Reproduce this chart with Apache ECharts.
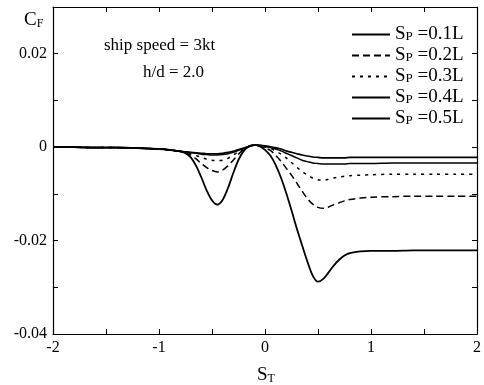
<!DOCTYPE html>
<html><head><meta charset="utf-8">
<script src="https://cdn.jsdelivr.net/npm/echarts@6/dist/echarts.min.js"></script>
<style>html,body{margin:0;padding:0;background:#fff}#c{width:484px;height:385px}</style>
</head><body><div id="c"></div>
<script>
const xs = [-2, -1.8, -1.6, -1.4, -1.2, -1.0, -0.9, -0.8, -0.75, -0.7, -0.65, -0.6, -0.55, -0.5, -0.45, -0.4, -0.35, -0.3, -0.25, -0.2, -0.15, -0.1, -0.05, 0, 0.05, 0.1, 0.15, 0.2, 0.25, 0.3, 0.35, 0.4, 0.45, 0.5, 0.55, 0.6, 0.65, 0.7, 0.75, 0.8, 0.9, 1.0, 1.2, 1.4, 1.6, 1.8, 2.0];
const sp01 = [0, 0, -0.0001, -0.0001, -0.0002, -0.0004, -0.0006, -0.0009,
  -0.0013, -0.0022, -0.0040, -0.0065, -0.0093, -0.0114, -0.0123, -0.0113, -0.0088, -0.0056, -0.0027, -0.0008, 0.0002, 0.0005, 0.0002,
  -0.0006, -0.0018, -0.0038, -0.0065, -0.0098, -0.0135, -0.0174, -0.0210, -0.0245, -0.0275, -0.0288, -0.0282, -0.0268, -0.0253, -0.0241, -0.0232, -0.0227, -0.0223, -0.0222, -0.0222, -0.0221, -0.0221, -0.0221, -0.0221];
const sp02 = [0, 0, -0.0001, -0.0001, -0.0002, -0.0004, -0.0006, -0.0009,
  -0.0012, -0.0017, -0.0025, -0.0035, -0.0044, -0.0050, -0.0053, -0.0049, -0.0040, -0.0028, -0.0015, -0.0005, 0.0002, 0.0004, 0.0002,
  -0.0002, -0.0007, -0.0017, -0.0030, -0.0045, -0.0060, -0.0077, -0.0094, -0.0110, -0.0122, -0.0129, -0.0131, -0.0128, -0.0123, -0.0119, -0.0115, -0.0112, -0.0109, -0.0107, -0.0106, -0.0105, -0.0105, -0.0105, -0.0105];
const sp03 = [0, 0, -0.0001, -0.0001, -0.0002, -0.0004, -0.0006, -0.0009,
  -0.0011, -0.0014, -0.0018, -0.0022, -0.0026, -0.0028, -0.0029, -0.0028, -0.0024, -0.0017, -0.0010, -0.0003, 0.0002, 0.0004, 0.0003,
  0, -0.0003, -0.0008, -0.0015, -0.0023, -0.0033, -0.0043, -0.0052, -0.0060, -0.0066, -0.0070, -0.0071, -0.0069, -0.0066, -0.0064, -0.0062, -0.0061, -0.0060, -0.0059, -0.0058, -0.0058, -0.0058, -0.0058, -0.0058];
const sp04 = [0, 0, -0.0001, -0.0001, -0.0002, -0.0004, -0.0006, -0.0009,
  -0.0010, -0.0012, -0.0013, -0.0015, -0.0016, -0.0017, -0.0017, -0.0016, -0.0014, -0.0011, -0.0007, -0.0003, 0.0001, 0.0004, 0.0004,
  0.0002, -0.0001, -0.0004, -0.0008, -0.0013, -0.0018, -0.0023, -0.0028, -0.0031, -0.0034, -0.0035, -0.0036, -0.0036, -0.0036, -0.0036, -0.0036, -0.0035, -0.0035, -0.0035, -0.0034, -0.0034, -0.0034, -0.0034, -0.0034];
const sp05 = [0, 0, -0.0001, -0.0001, -0.0002, -0.0004, -0.0006, -0.0009,
  -0.0010, -0.0011, -0.0012, -0.0013, -0.0014, -0.0014, -0.0014, -0.0013, -0.0011, -0.0009, -0.0005, -0.0002, 0.0002, 0.0004, 0.0004,
  0.0003, 0.0001, -0.0001, -0.0004, -0.0008, -0.0011, -0.0014, -0.0017, -0.0019, -0.0021, -0.0022, -0.0023, -0.0023, -0.0023, -0.0023, -0.0023, -0.0022, -0.0022, -0.0022, -0.0022, -0.0022, -0.0022, -0.0022, -0.0022];
const seriesNames = ['0.1L', '0.2L', '0.3L', '0.4L', '0.5L'];
const xTickLabels = ['-2', '-1', '0', '1', '2'];
const yTickLabels = ['0.02', '0', '-0.02', '-0.04'];

const FONT = '"Liberation Serif", "Times New Roman", serif';
const allY = [sp01, sp02, sp03, sp04, sp05];
const styles = [
  {type: 'solid', width: 1.8},
  {type: [7, 4], width: 1.5},
  {type: [3, 5], width: 1.5},
  {type: 'solid', width: 1.5},
  {type: 'solid', width: 1.6}
];
const rich = {
  m: {fontFamily: FONT, fontSize: 19, color: '#000'},
  s: {fontFamily: FONT, fontSize: 13, color: '#000', padding: [5, 0, 0, 0]}
};
const richBig = {
  m: {fontFamily: FONT, fontSize: 19, color: '#000'},
  s: {fontFamily: FONT, fontSize: 12, color: '#000', padding: [6, 0, 0, 0]}
};
const tickStyle = {lineStyle: {color: '#000', width: 1}};
function near(v, step) { return Math.abs(v / step - Math.round(v / step)) < 1e-6; }
function fmtX(v) {
  if (!near(v, 1)) return '';
  const s = String(Math.round(v));
  return xTickLabels.includes(s) ? s : '';
}
function fmtY(v) {
  if (!near(v, 0.02)) return '';
  const r = Math.round(v / 0.02) * 0.02;
  const s = Math.abs(r) < 1e-9 ? '0' : r.toFixed(2);
  return yTickLabels.includes(s) ? s : '';
}
const chart = echarts.init(document.getElementById('c'), null, {renderer: 'canvas'});
chart.setOption({
  animation: false,
  backgroundColor: '#fff',
  grid: {left: 53, right: 4, top: 7, bottom: 51, containLabel: false},
  xAxis: [
    {type: 'value', min: -2, max: 2, interval: 0.5, position: 'bottom',
     axisLine: {onZero: false, lineStyle: {color: '#000', width: 1.2}},
     axisTick: Object.assign({inside: true, length: 5}, tickStyle),
     axisLabel: {formatter: fmtX, color: '#000', fontFamily: FONT, fontSize: 16, margin: 6},
     splitLine: {show: false}},
    {type: 'value', min: -2, max: 2, interval: 0.5, position: 'top',
     axisLine: {onZero: false, lineStyle: {color: '#000', width: 1.2}},
     axisTick: Object.assign({inside: true, length: 5}, tickStyle),
     axisLabel: {show: false}, splitLine: {show: false}}
  ],
  yAxis: [
    {type: 'value', min: -0.04, max: 0.03, interval: 0.01, position: 'left',
     axisLine: {onZero: false, lineStyle: {color: '#000', width: 1.2}},
     axisTick: Object.assign({inside: true, length: 5}, tickStyle),
     axisLabel: {formatter: fmtY, color: '#000', fontFamily: FONT, fontSize: 16, margin: 6, showMaxLabel: false},
     splitLine: {show: false}},
    {type: 'value', min: -0.04, max: 0.03, interval: 0.01, position: 'right',
     axisLine: {onZero: false, lineStyle: {color: '#000', width: 1.2}},
     axisTick: Object.assign({inside: true, length: 5}, tickStyle),
     axisLabel: {show: false}, splitLine: {show: false}}
  ],
  legend: {
    orient: 'vertical', left: 351, top: 25, padding: 0, itemWidth: 38, itemHeight: 14, itemGap: 2,
    itemStyle: {opacity: 0},
    data: seriesNames,
    formatter: n => '{m|S}{s|P}{m| =' + n + '}',
    textStyle: {rich: rich}
  },
  graphic: [
    {type: 'text', left: 104, top: 37, style: {text: 'ship speed = 3kt', font: '17px ' + FONT, fill: '#000'}},
    {type: 'text', left: 143, top: 64, style: {text: 'h/d = 2.0', font: '17px ' + FONT, fill: '#000'}},
    {type: 'text', left: 24, top: 11, style: {text: '{m|C}{s|F}', rich: richBig}},
    {type: 'text', left: 257, top: 366, style: {text: '{m|S}{s|T}', rich: richBig}}
  ],
  series: seriesNames.map((n, i) => ({
    name: n, type: 'line', xAxisIndex: 0, yAxisIndex: 0,
    data: xs.map((x, j) => [x, allY[i][j]]),
    showSymbol: false, symbol: 'none', smooth: 0.3,
    lineStyle: Object.assign({color: '#000'}, styles[i]),
    itemStyle: {color: '#000'}
  }))
});
</script></body></html>
